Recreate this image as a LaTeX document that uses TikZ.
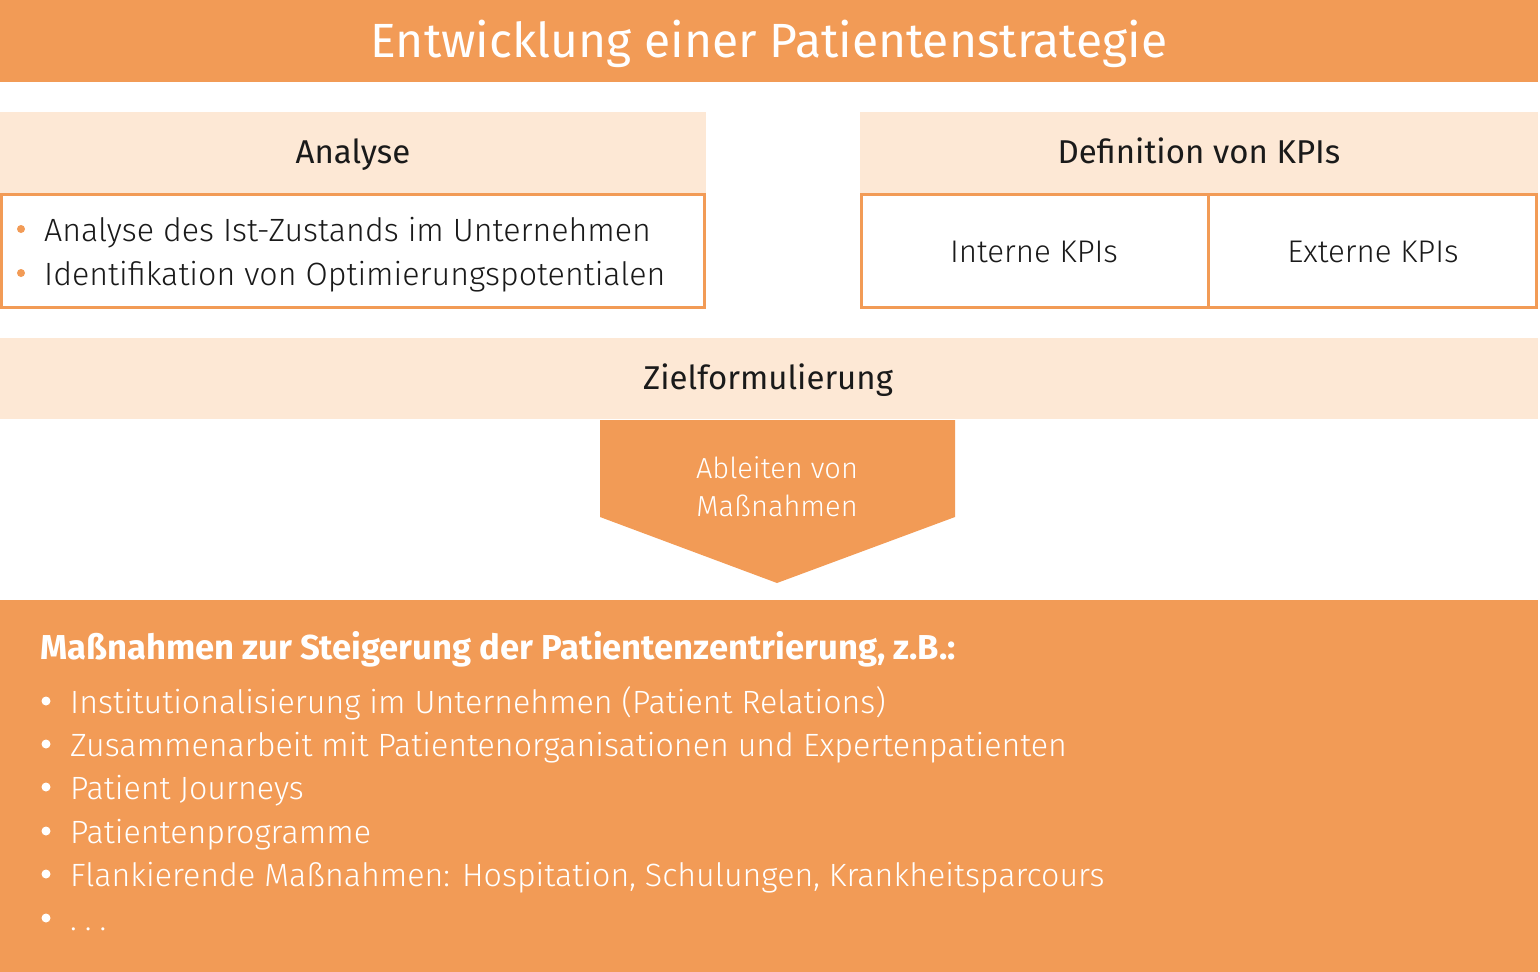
\documentclass[tikz,border=0pt]{standalone}
\usepackage{fontspec}
\setmainfont{Fira Sans}[UprightFont=* Light, BoldFont=* Bold]
\newfontfamily\regfont{Fira Sans}
\definecolor{orng}{HTML}{F29B56}
\definecolor{peach}{HTML}{FDE8D5}
\definecolor{ink}{HTML}{1A1A1A}
\tikzset{
  band/.style={fill=peach, draw=none},
  framebox/.style={draw=orng, line width=3pt, fill=white},
  headtxt/.style={text=ink, font=\regfont\fontsize{33}{40}\selectfont, inner sep=0pt, anchor=base},
  kpitxt/.style={text=ink, font=\fontsize{31.3}{40}\selectfont, inner sep=0pt, anchor=base},
  bodytxt/.style={text=ink, font=\fontsize{32.2}{40}\selectfont, inner sep=0pt, anchor=base west},
  whitetxt/.style={text=white, font=\fontsize{32.2}{40}\selectfont, inner sep=0pt, anchor=base west},
  obullet/.style={circle, fill=orng, inner sep=0pt, minimum size=8pt},
  wbullet/.style={circle, fill=white, inner sep=0pt, minimum size=9pt},
}
\begin{document}
\begin{tikzpicture}[x=1pt,y=-1pt]
\useasboundingbox (0,0) rectangle (1540,972);
% title
\fill[orng] (0,0) rectangle (1538,82);
\node[text=white, font=\regfont\fontsize{48}{56}\selectfont, inner sep=0pt, anchor=base] (title) at (769,57) {Entwicklung einer Patientenstrategie};
% Analyse
\fill[band] (0,112) rectangle (706,194);
\node[headtxt] (anahead) at (353,163) {Analyse};
\draw[framebox] (1.5,194) rectangle (704.5,307);
\node[obullet] (ab1) at (21,229) {};
\node[obullet] (ab2) at (21,273) {};
\node[bodytxt] (at1) at (44,241) {Analyse des Ist-Zustands im Unternehmen};
\node[bodytxt] (at2) at (44,285) {Identifikation von Optimierungspotentialen};
% KPIs
\fill[band] (860,112) rectangle (1538,194);
\node[headtxt] (kpihead) at (1199,163) {Definition von KPIs};
\draw[framebox] (861.5,194) rectangle (1536.5,307);
\draw[draw=orng, line width=3pt] (1208.5,194) -- (1208.5,307);
\node[kpitxt] (intkpi) at (1034,262) {Interne KPIs};
\node[kpitxt] (extkpi) at (1373,262) {Externe KPIs};
% Zielformulierung
\fill[band] (0,338) rectangle (1538,419);
\node[headtxt] (ziel) at (768,389) {Zielformulierung};
% arrow
\fill[orng] (600,420) -- (955,420) -- (955,517) -- (777,583) -- (600,517) -- cycle;
\node[text=white, font=\fontsize{29}{38}\selectfont, inner sep=0pt, anchor=base] (ableiten1) at (777,478) {Ableiten von};
\node[text=white, font=\fontsize{29}{38}\selectfont, inner sep=0pt, anchor=base] (ableiten2) at (777,516) {Maßnahmen};
% bottom box
\fill[orng] (0,600) rectangle (1538,972);
\node[text=white, font=\bfseries\fontsize{34.6}{40}\selectfont, inner sep=0pt, anchor=base west] (mhead) at (40,659) {Maßnahmen zur Steigerung der Patientenzentrierung, z.B.:};
\foreach \i/\y/\t in {1/701/{Institutionalisierung im Unternehmen (Patient Relations)},
                      2/744/{Zusammenarbeit mit Patientenorganisationen und Expertenpatienten},
                      3/787/{Patient Journeys},
                      4/831/{Patientenprogramme},
                      5/874/{Flankierende Maßnahmen: Hospitation, Schulungen, Krankheitsparcours},
                      6/918/{.\hspace{8pt}.\hspace{8pt}.}}{
  \node[wbullet] (mb\i) at (46,\y) {};
  \node[whitetxt] (mt\i) at (70,\y+12) {\t};
}
\end{tikzpicture}
\end{document}
